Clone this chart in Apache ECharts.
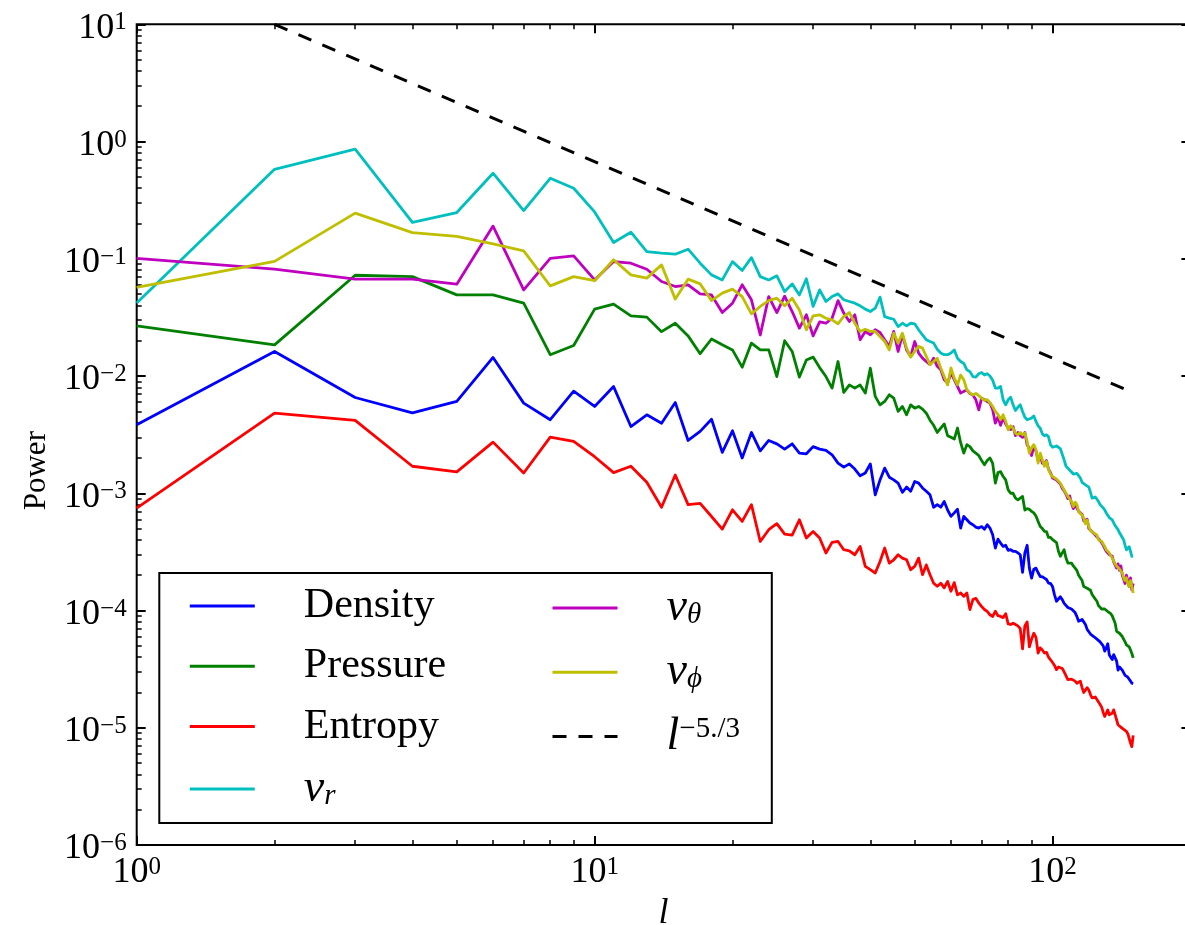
<!DOCTYPE html>
<html>
<head>
<meta charset="utf-8">
<script src="https://cdn.jsdelivr.net/npm/echarts@6/dist/echarts.min.js"></script>
<style>
html,body{margin:0;padding:0;background:#fff;}
#chart{width:1185px;height:925px;}
</style>
</head>
<body>
<div id="chart"></div>
<script>
const degrees = [1,2,3,4,5,6,7,8,9,10,11,12,13,14,15,16,17,18,19,20,21,22,23,24,25,26,27,28,29,30,
31,32,33,34,35,36,37,38,39,40,41,42,43,44,45,46,47,48,49,50,51,52,53,54,55,56,57,58,59,60,
61,62,63,64,65,66,67,68,69,70,71,72,73,74,75,76,77,78,79,80,81,82,83,84,85,86,87,88,89,90,
91,92,93,94,95,96,97,98,99,100,101,102,103,104,105,106,107,108,109,110,111,112,113,114,115,116,117,118,119,120,
121,122,123,124,125,126,127,128,129,130,131,132,133,134,135,136,137,138,139,140,141,142,143,144,145,146,147,148,149,150];

const density = [0.00384,0.0162,0.00656,0.00485,0.00607,0.0144,0.00587,0.00424,0.00743,0.0055,
0.00813,0.00371,0.00467,0.00396,0.00594,0.00282,0.00337,0.00428,0.00223,0.00341,
0.002,0.0033,0.0023,0.00282,0.00264,0.00238,0.00264,0.0022,0.00217,0.0025,
0.00238,0.00232,0.00213,0.00181,0.00167,0.00178,0.00161,0.00141,0.00149,0.00178,
0.00097,0.0013,0.00164,0.00137,0.0013,0.00122,0.00102,0.00113,0.00104,0.00126,
0.00122,0.00111,0.00104,0.00097,0.00076,0.0008,0.00076,0.00085,0.00072,0.000635,
0.00068,0.00073,0.000505,0.000635,0.000594,0.000557,0.000539,0.000515,0.000505,0.00052,
0.000494,0.000539,0.000505,0.000443,0.000341,0.000406,0.000376,0.000352,0.00036,0.000326,
0.00033,0.00032,0.00032,0.00031,0.000299,0.000212,0.00031,0.00036,0.00023,0.000189,
0.000225,0.00023,0.00021,0.000195,0.000194,0.000189,0.000184,0.000171,0.00017,0.00016,
0.000136,0.00012,0.000117,0.000131,0.000124,0.000115,0.000117,0.000106,0.00011,0.000103,
0.000106,0.000096,0.000089,0.000081,0.000078,0.000084,0.000086,0.000076,0.000069,0.000067,
0.000063,0.000061,0.00006,0.000058,0.000057,0.000055,0.000054,0.000053,0.00005,0.000045,
0.000048,0.000052,0.000042,0.00004,0.0000381,0.000042,0.000043,0.000037,0.000031,0.000033,
0.000032,0.000031,0.00003,0.000028,0.000027,0.000027,0.000026,0.000025,0.000024,0.0000238];

const pressure = [0.0268,0.01845,0.0724,0.0705,0.0492,0.0492,0.0418,0.0152,0.0182,0.0372,
0.041,0.0326,0.0318,0.0239,0.0282,0.022,0.0155,0.0207,0.01845,0.0167,
0.0119,0.0191,0.0167,0.0167,0.0099,0.020,0.0162,0.0098,0.0137,0.0145,
0.0118,0.0099,0.00788,0.0133,0.00724,0.0084,0.00788,0.0084,0.00715,0.01166,
0.0067,0.00568,0.00607,0.00692,0.00648,0.00499,0.0055,0.00467,0.00568,0.00532,
0.0055,0.00522,0.00482,0.0042,0.0038,0.0033,0.0036,0.0039,0.0031,0.0030,
0.0029,0.0036,0.0027,0.0022,0.0026,0.0025,0.0023,0.0022,0.0021,0.0019,
0.00175,0.0019,0.0020,0.0018,0.00122,0.0015,0.00153,0.00139,0.0013,0.00107,
0.001,0.001,0.00091,0.00088,0.00091,0.00094,0.00072,0.00074,0.00073,0.0007,
0.00068,0.00064,0.000575,0.00052,0.0005,0.000473,0.00047,0.00042,0.00042,0.000402,
0.00039,0.00038,0.00032,0.00029,0.00031,0.00033,0.00028,0.000254,0.00025,0.000254,
0.00024,0.00023,0.00022,0.0002,0.000195,0.00018,0.00016,0.00016,0.000155,0.00015,
0.000149,0.000137,0.000134,0.000125,0.00012,0.00011,0.000108,0.000103,0.0001,0.000103,
0.0001,0.000098,0.000097,0.000094,0.00009,0.000088,0.000078,0.0000664,0.000065,0.000064,
0.000062,0.00006,0.000059,0.000054,0.000051,0.00005,0.000049,0.000046,0.000043,0.0000394];

const entropy = [0.000748,0.00483,0.00418,0.0017,0.00152,0.00273,0.00149,0.00301,0.00277,0.00205,
0.0015,0.0017,0.00124,0.00076,0.00143,0.0008,0.00082,0.000634,0.000495,0.000723,
0.000575,0.0008,0.000388,0.000489,0.00055,0.000449,0.00044,0.000594,0.000415,0.000472,
0.000415,0.000309,0.000381,0.000388,0.00033,0.000323,0.000299,0.000352,0.000238,0.000223,
0.000209,0.000262,0.000341,0.000254,0.000271,0.000299,0.00028,0.000271,0.000223,0.000238,
0.00028,0.000202,0.000245,0.000202,0.000171,0.000161,0.000171,0.000156,0.000177,0.000146,
0.000173,0.000136,0.000141,0.000132,0.000141,0.000102,0.000124,0.000127,0.000116,0.000108,
0.000102,0.0000984,0.000092,0.000089,0.0000984,0.0000903,0.000089,0.000087,0.000094,0.000077,
0.000076,0.000078,0.000076,0.000074,0.00007,0.000047,0.000074,0.00008,0.000049,0.000057,
0.000064,0.000059,0.0000434,0.000048,0.000046,0.0000434,0.000044,0.00004,0.000038,0.000036,
0.000034,0.0000313,0.000033,0.000033,0.000032,0.00003,0.000029,0.0000257,0.000026,0.000026,
0.0000257,0.000025,0.000024,0.000024,0.000025,0.000022,0.00002,0.00002,0.000022,0.000021,
0.0000192,0.000018,0.000018,0.0000183,0.0000177,0.0000166,0.0000158,0.000015,0.0000135,0.0000125,
0.0000133,0.0000142,0.0000129,0.0000127,0.0000133,0.0000142,0.0000129,0.0000117,0.0000106,0.0000103,
0.0000101,0.0000099,0.0000097,0.0000095,0.0000093,0.0000089,0.0000081,0.0000074,0.0000069,0.0000086];

const vR = [0.042,0.58,0.86,0.204,0.248,0.537,0.258,0.486,0.40,0.251,
0.1375,0.1686,0.115,0.1116,0.1094,0.1207,0.0917,0.0729,0.066,0.0946,
0.0794,0.1023,0.0705,0.066,0.0715,0.0525,0.0611,0.0492,0.0675,0.0392,
0.0543,0.0432,0.0476,0.0502,0.0447,0.0432,0.0418,0.0397,0.0372,0.0355,
0.0379,0.0471,0.0321,0.0312,0.0305,0.0264,0.0282,0.0268,0.0282,0.0279,
0.0248,0.0224,0.0204,0.0197,0.0191,0.0169,0.0157,0.0152,0.0152,0.0157,
0.0167,0.0142,0.0133,0.0128,0.0113,0.0109,0.0099,0.0098,0.01045,0.0107,
0.0102,0.01045,0.0100,0.0092,0.0079,0.0079,0.00815,0.00627,0.00568,0.00627,
0.0066,0.00568,0.00508,0.00542,0.00568,0.00499,0.00446,0.00424,0.0043,0.00438,
0.00457,0.0041,0.00376,0.00359,0.00321,0.00309,0.00315,0.00303,0.00259,0.00247,
0.0025,0.00253,0.00247,0.0024,0.00244,0.00193,0.0017,0.00165,0.00158,0.0016,
0.00146,0.00144,0.00148,0.00153,0.00135,0.00124,0.00122,0.00118,0.00115,0.00113,
0.00102,0.00091,0.00088,0.00093,0.00094,0.00085,0.0008,0.00077,0.00075,0.00072,
0.00068,0.00065,0.00062,0.0006,0.000594,0.00056,0.00053,0.00052,0.00049,0.00046,
0.00044,0.00043,0.0004,0.00036,0.00033,0.00034,0.00035,0.00032,0.00029,0.00029];

const vTheta = [0.101,0.0815,0.067,0.067,0.0607,0.19,0.0543,0.101,0.106,0.066,
0.0946,0.0917,0.0815,0.064,0.058,0.060,0.0502,0.0492,0.0348,0.0418,
0.060,0.0447,0.0224,0.0476,0.0348,0.048,0.0355,0.0256,0.0333,0.022,
0.029,0.0282,0.0311,0.044,0.0344,0.0292,0.0333,0.0204,0.024,0.0225,
0.0248,0.0235,0.0204,0.0179,0.024,0.0162,0.0225,0.0167,0.0147,0.0197,
0.0157,0.0142,0.0133,0.0125,0.0142,0.0121,0.0113,0.0093,0.0087,0.0106,
0.0093,0.00815,0.00715,0.0074,0.0076,0.0071,0.0069,0.00627,0.00515,0.00648,
0.00627,0.00607,0.00587,0.00515,0.00396,0.0045,0.0038,0.0044,0.0039,0.0036,
0.0035,0.0037,0.0031,0.0033,0.0031,0.0030,0.0033,0.0026,0.0024,0.0021,
0.0025,0.0023,0.0019,0.0021,0.0018,0.0018,0.0019,0.0016,0.0015,0.00135,
0.0014,0.0013,0.0013,0.0012,0.0011,0.00105,0.00098,0.0009,0.00095,0.00082,
0.00074,0.0008,0.00078,0.0007,0.00069,0.00066,0.00058,0.00056,0.0006,0.0005,
0.00049,0.00047,0.00047,0.00044,0.00045,0.00041,0.0004,0.00038,0.00036,0.00036,
0.00032,0.00033,0.0003,0.0003,0.00029,0.00026,0.00026,0.00023,0.00025,0.00022,
0.00024,0.0002,0.0002,0.00017,0.0002,0.00018,0.00016,0.00019,0.00015,0.00017];

const vPhi = [0.057,0.095,0.245,0.167,0.155,0.134,0.117,0.0587,0.0705,0.065,
0.098,0.0729,0.0684,0.0887,0.0453,0.067,0.0611,0.044,0.0509,0.0551,
0.0476,0.0339,0.0392,0.044,0.0461,0.0397,0.0461,0.0366,0.0248,0.0326,
0.0333,0.0311,0.0301,0.0279,0.0322,0.0348,0.0282,0.024,0.0251,0.024,
0.024,0.0217,0.0197,0.0167,0.0232,0.0191,0.0232,0.0173,0.0145,0.0162,
0.0179,0.0173,0.0147,0.0125,0.0133,0.0142,0.0117,0.0099,0.0084,0.0117,
0.0096,0.0084,0.0102,0.0093,0.0076,0.00715,0.0069,0.0071,0.0068,0.00648,
0.0062,0.0063,0.0059,0.0055,0.005,0.0047,0.00424,0.00467,0.0041,0.00347,
0.00376,0.00359,0.00326,0.00315,0.0033,0.00315,0.00326,0.00277,0.0022,0.00244,
0.0026,0.00236,0.00181,0.0022,0.00193,0.0017,0.00187,0.00158,0.00146,0.00139,
0.00144,0.00132,0.00129,0.00122,0.00114,0.00111,0.001,0.00094,0.00091,0.00085,
0.00077,0.00084,0.0008,0.0007,0.00072,0.00065,0.00061,0.00055,0.00059,0.00052,
0.00048,0.00049,0.00046,0.00046,0.00044,0.0004,0.00041,0.00039,0.00037,0.000352,
0.00033,0.00032,0.00031,0.0003,0.00028,0.00027,0.00025,0.00024,0.00024,0.000226,
0.00023,0.00021,0.00019,0.00018,0.00019,0.00017,0.00016,0.00018,0.00016,0.000141];

// reference power law l^(-5/3), endpoints
const slopeL = [2, 150];
const slopeP = [10, 0.0072];

// axis ticks
const xMajorTicks = [1, 10, 100];
const xMinorTicks = [2,3,4,5,6,7,8,9,20,30,40,50,60,70,80,90,200];
const yMajorTicks = [1e-6,1e-5,1e-4,1e-3,1e-2,1e-1,1,10];
const yMinorTicks = [];
[1e-6,1e-5,1e-4,1e-3,1e-2,1e-1,1].forEach(function (d) {
  [2,3,4,5,6,7,8,9].forEach(function (m) { yMinorTicks.push(parseFloat((m * d).toPrecision(3))); });
});

const FONT = 'Liberation Serif';
const chart = echarts.init(document.getElementById('chart'), null, {renderer: 'canvas'});

function pow10Label(v) {
  const e = Math.round(Math.log10(v));
  return '{b|10}{s|' + (e < 0 ? '\u2212' + (-e) : e) + '}';
}
const tickRich = {
  b: {fontFamily: FONT, fontSize: 36, color: '#000', lineHeight: 36, verticalAlign: 'bottom'},
  s: {fontFamily: FONT, fontSize: 25, color: '#000', lineHeight: 25, verticalAlign: 'top'}
};

function pairs(arr) { return degrees.map(function (l, i) { return [l, arr[i]]; }); }

const baseX = {type: 'log', logBase: 10, min: 1, max: 200, gridIndex: 0,
  splitLine: {show: false}, axisLine: {show: false}, minorTick: {show: false}};
const baseY = {type: 'log', logBase: 10, min: 1e-6, max: 10, gridIndex: 0,
  splitLine: {show: false}, axisLine: {show: false}, minorTick: {show: false}};
const majorTick = function (vals) { return {show: true, inside: true, length: 9, customValues: vals, lineStyle: {color: '#000', width: 2}}; };
const minorTick = function (vals) { return {show: true, inside: true, length: 5, customValues: vals, lineStyle: {color: '#000', width: 1.5}}; };

const legendNames = {
  Density: '{g| }{t|Density}',
  Pressure: '{g| }{t|Pressure}',
  Entropy: '{g| }{t|Entropy}',
  vr: '{g| }{i|v}{sub|r}',
  vtheta: '{g| }{i|v}{sub|\u03b8}',
  vphi: '{g| }{i|v}{sub|\u03d5}',
  pow: '{g| }{i|l}{sup|\u22125./3}'
};
const legendRich = {
  g: {width: 44, fontSize: 10, lineHeight: 44},
  t: {fontFamily: FONT, fontSize: 42, color: '#000', lineHeight: 44},
  i: {fontFamily: FONT, fontSize: 46, fontStyle: 'italic', color: '#000', lineHeight: 44},
  sub: {fontFamily: FONT, fontSize: 29, fontStyle: 'italic', color: '#000', lineHeight: 16, verticalAlign: 'bottom'},
  sup: {fontFamily: FONT, fontSize: 29, color: '#000', lineHeight: 22, verticalAlign: 'top'}
};
const legendCommon = {
  orient: 'vertical', padding: 0, itemWidth: 65, itemHeight: 20, itemGap: 18.3, top: 585,
  selectedMode: false, z: 6,
  itemStyle: {opacity: 0},
  lineStyle: {width: 3},
  formatter: function (n) { return legendNames[n]; },
  textStyle: {rich: legendRich, fontFamily: FONT, color: '#000'}
};

function lineSeries(name, arr, color) {
  return {name: name, type: 'line', data: pairs(arr), symbol: 'none', showSymbol: false,
    color: color, lineStyle: {color: color, width: 2.8, join: 'round'}, z: 2, animation: false};
}

chart.setOption({
  animation: false,
  backgroundColor: '#fff',
  grid: {left: 136.7, top: 24.3, width: 1053.7, height: 820.7, show: true,
    borderColor: '#000', borderWidth: 2, backgroundColor: 'transparent', containLabel: false, outerBoundsMode: 'none'},
  xAxis: [
    Object.assign({}, baseX, {position: 'bottom', axisTick: majorTick(xMajorTicks),
      axisLabel: {show: true, customValues: xMajorTicks, formatter: pow10Label, rich: tickRich, margin: 10},
      name: 'l', nameLocation: 'middle', nameGap: 42,
      nameTextStyle: {fontFamily: FONT, fontSize: 36, fontStyle: 'italic', color: '#000'}}),
    Object.assign({}, baseX, {position: 'bottom', axisTick: minorTick(xMinorTicks), axisLabel: {show: false}}),
    Object.assign({}, baseX, {position: 'top', axisTick: majorTick(xMajorTicks), axisLabel: {show: false}}),
    Object.assign({}, baseX, {position: 'top', axisTick: minorTick(xMinorTicks), axisLabel: {show: false}})
  ],
  yAxis: [
    Object.assign({}, baseY, {position: 'left', axisTick: majorTick(yMajorTicks),
      axisLabel: {show: true, customValues: yMajorTicks, formatter: pow10Label, rich: tickRich, margin: 10, padding: [8, 0, 0, 0]},
      name: 'Power', nameLocation: 'middle', nameGap: 84,
      nameTextStyle: {fontFamily: FONT, fontSize: 31, color: '#000', padding: [0, 72, 0, 0]}}),
    Object.assign({}, baseY, {position: 'left', axisTick: minorTick(yMinorTicks), axisLabel: {show: false}}),
    Object.assign({}, baseY, {position: 'right', axisTick: majorTick(yMajorTicks), axisLabel: {show: false}}),
    Object.assign({}, baseY, {position: 'right', axisTick: minorTick(yMinorTicks), axisLabel: {show: false}})
  ],
  legend: [
    Object.assign({}, legendCommon, {left: 188.3, data: ['Density', 'Pressure', 'Entropy', 'vr']}),
    Object.assign({}, legendCommon, {left: 551, data: ['vtheta', 'vphi', 'pow']})
  ],
  graphic: [{
    type: 'rect', z: 5, silent: true,
    shape: {x: 159.3, y: 573, width: 612.5, height: 250},
    style: {fill: '#fff', stroke: '#000', lineWidth: 2}
  }],
  series: [
    lineSeries('Density', density, '#0000ff'),
    lineSeries('Pressure', pressure, '#008000'),
    lineSeries('Entropy', entropy, '#ff0000'),
    lineSeries('vr', vR, '#00bfbf'),
    lineSeries('vtheta', vTheta, '#bf00bf'),
    lineSeries('vphi', vPhi, '#bfbf00'),
    {name: 'pow', type: 'line', data: slopeL.map(function (l, i) { return [l, slopeP[i]]; }),
      symbol: 'none', showSymbol: false, color: '#000',
      lineStyle: {color: '#000', width: 3, type: [14, 12], cap: 'butt'}, z: 2, animation: false}
  ]
});
</script>
</body>
</html>
